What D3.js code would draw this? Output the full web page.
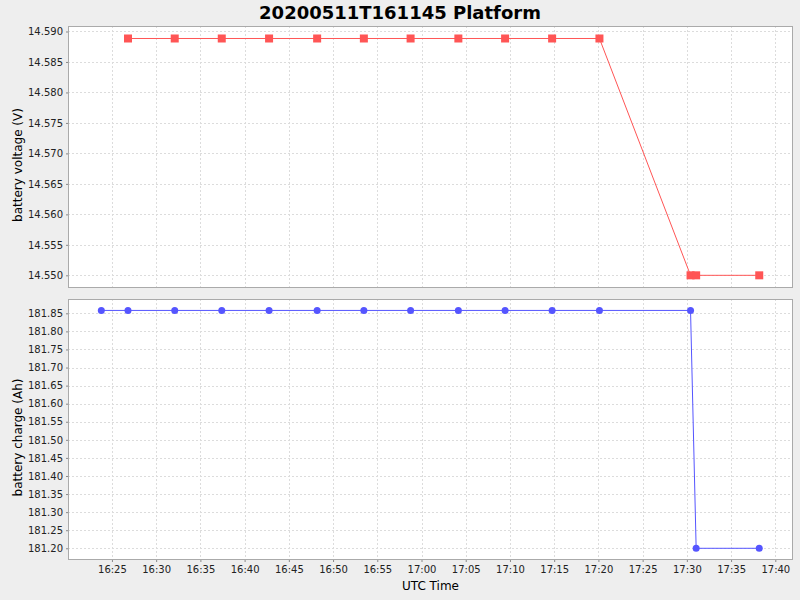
<!DOCTYPE html>
<html>
<head>
<meta charset="utf-8">
<script src="https://cdn.jsdelivr.net/npm/d3@7"></script>
<style>
  body { margin: 0; background: #eeeeee; }
  svg { display: block; font-family: "DejaVu Sans", sans-serif; }
</style>
</head>
<body>
<svg id="chart" width="800" height="600"></svg>
<script>
const title = "20200511T161145 Platform";
const day = "2020-05-11";

const voltageTimes = ["16:26:49", "16:32:06", "16:37:25", "16:42:46", "16:48:12", "16:53:29", "16:58:46",
  "17:04:10", "17:09:27", "17:14:46", "17:20:07", "17:30:25", "17:31:03", "17:38:11"];
const voltageValues = [14.58885, 14.58885, 14.58885, 14.58885, 14.58885, 14.58885, 14.58885,
  14.58885, 14.58885, 14.58885, 14.58885, 14.550, 14.550, 14.550];

const chargeTimes = ["16:23:48", "16:26:49", "16:32:06", "16:37:25", "16:42:46", "16:48:12", "16:53:29", "16:58:46",
  "17:04:10", "17:09:27", "17:14:46", "17:20:07", "17:30:25", "17:31:03", "17:38:11"];
const chargeValues = [181.858, 181.858, 181.858, 181.858, 181.858, 181.858, 181.858, 181.858,
  181.858, 181.858, 181.858, 181.858, 181.858, 181.20, 181.20];

const voltageTicks = [14.550, 14.555, 14.560, 14.565, 14.570, 14.575, 14.580, 14.585, 14.590];
const chargeTicks = [181.20, 181.25, 181.30, 181.35, 181.40, 181.45, 181.50, 181.55, 181.60,
  181.65, 181.70, 181.75, 181.80, 181.85];
const timeDomain = ["16:20:02", "17:42:00"];

const parse = d3.utcParse("%Y-%m-%d %H:%M:%S");
const toDate = t => parse(`${day} ${t}`);

const svg = d3.select("#chart");
const left = 68, right = 793;

const x = d3.scaleUtc()
  .domain(timeDomain.map(toDate))
  .range([left, right]);

svg.append("text")
  .attr("x", 400).attr("y", 19)
  .attr("text-anchor", "middle")
  .style("font-size", "18px").style("font-weight", "bold")
  .text(title);

function drawPanel(opts) {
  const { top, bottom, domain, ticks, fmt, times, values, color, shape, label } = opts;
  const y = d3.scaleLinear().domain(domain).range([bottom, top]);
  const g = svg.append("g");

  g.append("rect")
    .attr("x", left).attr("y", top)
    .attr("width", right - left).attr("height", bottom - top)
    .attr("fill", "#fff");

  // grid
  const xt = x.ticks(d3.utcMinute.every(5));
  g.append("g").selectAll("line").data(xt).join("line")
    .attr("x1", d => Math.round(x(d)) + 0.5).attr("x2", d => Math.round(x(d)) + 0.5)
    .attr("y1", top).attr("y2", bottom)
    .attr("stroke", "#dcdcdc").attr("stroke-dasharray", "2,2");
  g.append("g").selectAll("line").data(ticks).join("line")
    .attr("x1", left).attr("x2", right)
    .attr("y1", d => Math.round(y(d)) + 0.5).attr("y2", d => Math.round(y(d)) + 0.5)
    .attr("stroke", "#dcdcdc").attr("stroke-dasharray", "2,2");

  g.append("rect")
    .attr("x", left + 0.5).attr("y", top + 0.5)
    .attr("width", right - left - 1).attr("height", bottom - top - 1)
    .attr("fill", "none").attr("stroke", "#aaaaaa");

  // y axis
  const ya = g.append("g")
    .attr("transform", `translate(${left},0)`)
    .call(d3.axisLeft(y).tickValues(ticks).tickFormat(d3.format(fmt)).tickSize(2).tickPadding(3));
  ya.select(".domain").remove();
  ya.selectAll(".tick line").attr("stroke", "#888");
  ya.selectAll("text").style("font-size", "10px").attr("fill", "#222")
    .style("font-family", "DejaVu Sans, sans-serif");

  g.append("text")
    .attr("transform", `translate(22,${(top + bottom) / 2 + 8}) rotate(-90)`)
    .attr("text-anchor", "middle")
    .style("font-size", "12px")
    .text(label);

  const pts = times.map((t, i) => ({ t: toDate(t), v: values[i] }));
  g.append("path")
    .datum(pts)
    .attr("fill", "none").attr("stroke", color).attr("stroke-width", 1)
    .attr("d", d3.line().x(d => x(d.t)).y(d => y(d.v)));

  if (shape === "square") {
    g.append("g").selectAll("rect").data(pts).join("rect")
      .attr("x", d => x(d.t) - 4).attr("y", d => y(d.v) - 4)
      .attr("width", 8).attr("height", 8)
      .attr("fill", color);
  } else {
    g.append("g").selectAll("circle").data(pts).join("circle")
      .attr("cx", d => x(d.t)).attr("cy", d => y(d.v))
      .attr("r", 3.5)
      .attr("fill", color);
  }
  return g;
}

drawPanel({
  top: 26, bottom: 288,
  domain: [14.54792, 14.5909],
  ticks: voltageTicks, fmt: ".3f",
  times: voltageTimes, values: voltageValues,
  color: "#ff5555", shape: "square",
  label: "battery voltage (V)"
});

drawPanel({
  top: 299, bottom: 560,
  domain: [181.1676, 181.8896],
  ticks: chargeTicks, fmt: ".2f",
  times: chargeTimes, values: chargeValues,
  color: "#5555ff", shape: "circle",
  label: "battery charge (Ah)"
});

// shared time axis
const xa = svg.append("g")
  .attr("transform", "translate(0,560)")
  .call(d3.axisBottom(x).ticks(d3.utcMinute.every(5)).tickFormat(d3.utcFormat("%H:%M")).tickSize(2).tickPadding(4));
xa.select(".domain").remove();
xa.selectAll(".tick line").attr("stroke", "#888");
xa.selectAll("text").style("font-size", "10px").attr("fill", "#222")
  .style("font-family", "DejaVu Sans, sans-serif");

svg.append("text")
  .attr("x", (left + right) / 2).attr("y", 590)
  .attr("text-anchor", "middle")
  .style("font-size", "12px")
  .text("UTC Time");
</script>
</body>
</html>
